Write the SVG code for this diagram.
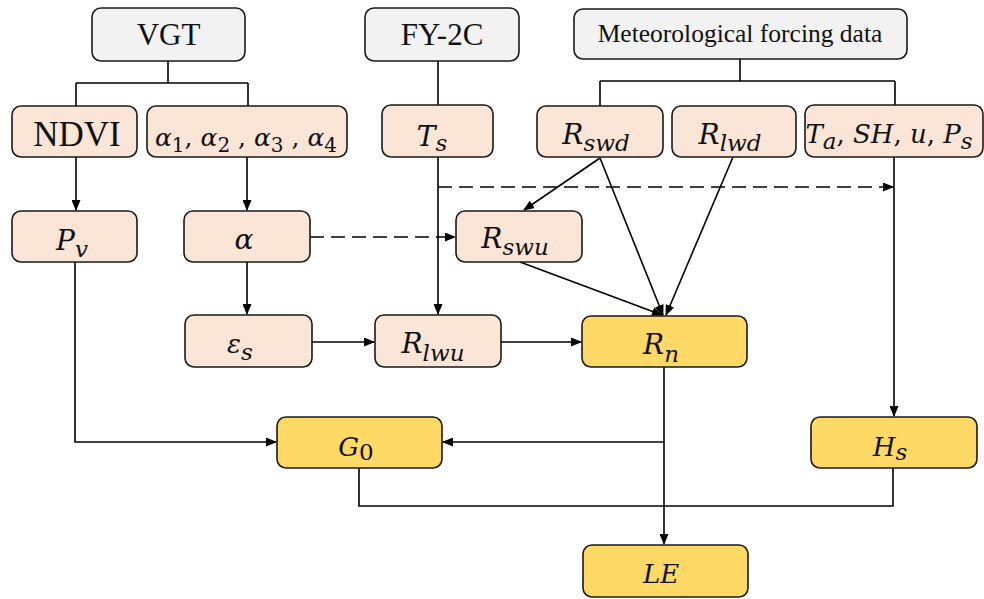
<svg xmlns="http://www.w3.org/2000/svg" width="984" height="599" viewBox="0 0 984 599">
<style>
.b{stroke:#1a1a1a;stroke-width:1.6}
.g{fill:#f2f2f2}.p{fill:#fbe5d6}.y{fill:#ffd966}
.t{font-family:"Liberation Serif","Times New Roman",serif;fill:#111;text-anchor:middle}
.m{font-family:"DejaVu Serif",serif;font-style:italic;fill:#111;text-anchor:middle;font-size:28px}
.s{font-size:23px}
.n{font-style:normal}
.k{font-size:26px}
.c{stroke:#000;stroke-width:1.6;fill:none}
.a{marker-end:url(#ah)}
.d{stroke-dasharray:14 7}
</style>
<defs>
<marker id="ah" markerUnits="userSpaceOnUse" markerWidth="11" markerHeight="9" refX="10" refY="4.5" orient="auto">
<path d="M0,0 L11,4.5 L0,9 z" fill="#000"/>
</marker>
</defs>
<g id="connectors">
<path class="c" d="M168,61 V83 M76,83 H248 M76,83 V106 M248,83 V106"/>
<path class="c" d="M438,61 V105"/>
<path class="c" d="M740,59 V81 M600,81 H895 M600,81 V106 M895,81 V105"/>
<path class="c a" d="M76,157 V210"/>
<path class="c a" d="M247,157 V210"/>
<path class="c a" d="M247,262 V314"/>
<path class="c a" d="M438,157 V314"/>
<path class="c d a" d="M438,187 H893"/>
<path class="c d a" d="M310,237 H455"/>
<path class="c a" d="M600,158 L524,210"/>
<path class="c a" d="M600,158 L663,315"/>
<path class="c a" d="M733,157 L666,315"/>
<path class="c a" d="M520,262 L662,315"/>
<path class="c a" d="M312,342 H374"/>
<path class="c a" d="M501,342 H581"/>
<path class="c a" d="M894,157 V416"/>
<path class="c a" d="M75,262 V442 H276"/>
<path class="c a" d="M664,367 V544"/>
<path class="c a" d="M664,442 H443"/>
<path class="c" d="M359,468 V506 H893 V468"/>
</g>
<g id="vgt"><rect class="b g" x="92" y="8" width="153" height="53" rx="9"/><text class="t" x="168.5" y="45" font-size="31">VGT</text></g>
<g id="fy2c"><rect class="b g" x="365" y="8" width="154" height="53" rx="9"/><text class="t" x="442" y="45" font-size="31">FY-2C</text></g>
<g id="met"><rect class="b g" x="574" y="9" width="333" height="50" rx="9"/><text class="t" x="740" y="42" font-size="25.5">Meteorological forcing data</text></g>
<g id="ndvi"><rect class="b p" x="12" y="106" width="125" height="51" rx="9"/><text class="t" x="77" y="146" font-size="35">NDVI</text></g>
<g id="alphas"><rect class="b p" x="147" y="106" width="200" height="51" rx="9"/><text class="m" x="246" y="146" font-size="25" style="font-size:25px">α<tspan class="n" font-size="20" style="font-size:20px" dy="6">1</tspan><tspan class="n" dy="-6">, </tspan>α<tspan class="n" style="font-size:20px" dy="6">2</tspan><tspan class="n" dy="-6"> , </tspan>α<tspan class="n" style="font-size:20px" dy="6">3</tspan><tspan class="n" dy="-6"> , </tspan>α<tspan class="n" style="font-size:20px" dy="6">4</tspan></text></g>
<g id="ts"><rect class="b p" x="382" y="105" width="111" height="52" rx="9"/><text class="m" x="432" y="146">T<tspan class="s" dy="5">s</tspan></text></g>
<g id="rswd"><rect class="b p" x="537" y="106" width="126" height="51" rx="9"/><text class="m" x="596" y="144">R<tspan class="s" dy="7">swd</tspan></text></g>
<g id="rlwd"><rect class="b p" x="672" y="106" width="124" height="51" rx="9"/><text class="m" x="730" y="144">R<tspan class="s" dy="7">lwd</tspan></text></g>
<g id="tashups"><rect class="b p" x="805" y="105" width="178" height="52" rx="9"/><text class="m k" x="889" y="143">T<tspan class="s" dy="6">a</tspan><tspan class="n" dy="-6">, </tspan>SH<tspan class="n">, </tspan>u<tspan class="n">, </tspan>P<tspan class="s" dy="6">s</tspan></text></g>
<g id="pv"><rect class="b p" x="12" y="211" width="125" height="51" rx="9"/><text class="m" x="72" y="250">P<tspan class="s" dy="7">v</tspan></text></g>
<g id="alpha"><rect class="b p" x="184" y="211" width="126" height="51" rx="9"/><text class="m" x="244" y="249">α</text></g>
<g id="rswu"><rect class="b p" x="456" y="211" width="126" height="51" rx="9"/><text class="m" x="515" y="248">R<tspan class="s" dy="7">swu</tspan></text></g>
<g id="eps"><rect class="b p" x="185" y="315" width="127" height="52" rx="9"/><text class="m k" x="240" y="353">ε<tspan class="s" dy="7">s</tspan></text></g>
<g id="rlwu"><rect class="b p" x="375" y="315" width="126" height="52" rx="9"/><text class="m" x="433" y="353">R<tspan class="s" dy="8">lwu</tspan></text></g>
<g id="rn"><rect class="b y" x="582" y="316" width="165" height="51" rx="9"/><text class="m" x="661" y="354">R<tspan class="s" dy="8">n</tspan></text></g>
<g id="g0"><rect class="b y" x="277" y="417" width="165" height="51" rx="9"/><text class="m k" x="356" y="456">G<tspan class="s n" dy="4">0</tspan></text></g>
<g id="hs"><rect class="b y" x="811" y="417" width="166" height="51" rx="9"/><text class="m k" x="890" y="456">H<tspan class="s" dy="4">s</tspan></text></g>
<g id="le"><rect class="b y" x="583" y="545" width="165" height="52" rx="9"/><text class="m k" x="661" y="583">LE</text></g>
</svg>
